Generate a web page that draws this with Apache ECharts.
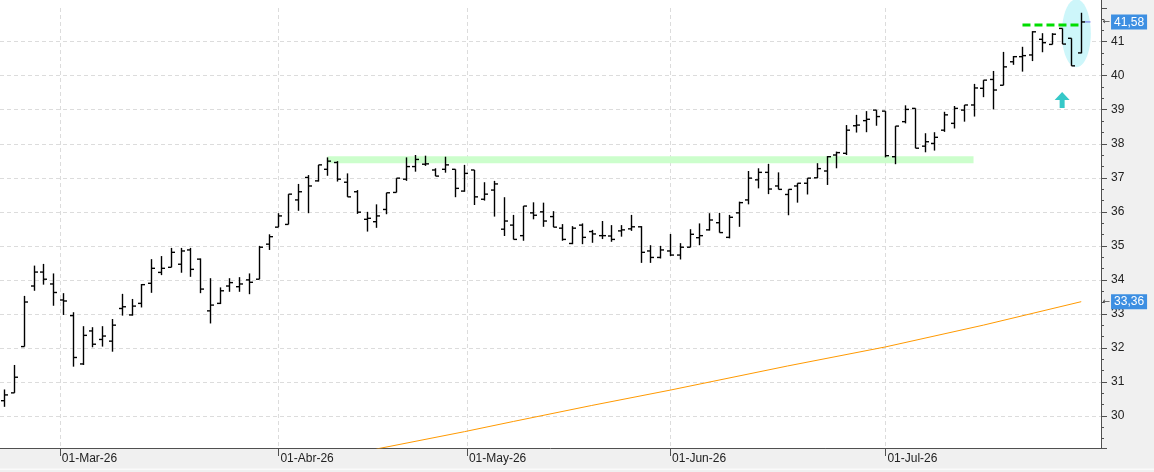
<!DOCTYPE html>
<html>
<head>
<meta charset="utf-8">
<style>
  html, body { margin: 0; padding: 0; background: #fff; }
  #chart { width: 1154px; height: 472px; }
</style>
<script src="https://cdn.jsdelivr.net/npm/echarts@6.0.0/dist/echarts.min.js"></script>
</head>
<body>
<div id="chart"></div>
<script>
// sesiones (una barra por sesión)
const dates = [
  '2026-02-20', '2026-02-23', '2026-02-24', '2026-02-25', '2026-02-26', '2026-02-27',
  '2026-03-02', '2026-03-03', '2026-03-04', '2026-03-05', '2026-03-06',
  '2026-03-09', '2026-03-10', '2026-03-11', '2026-03-12', '2026-03-13',
  '2026-03-16', '2026-03-17', '2026-03-18', '2026-03-19', '2026-03-20',
  '2026-03-23', '2026-03-24', '2026-03-25', '2026-03-26', '2026-03-27',
  '2026-03-30', '2026-03-31', '2026-04-01', '2026-04-02',
  '2026-04-07', '2026-04-08', '2026-04-09', '2026-04-10',
  '2026-04-13', '2026-04-14', '2026-04-15', '2026-04-16', '2026-04-17',
  '2026-04-20', '2026-04-21', '2026-04-22', '2026-04-23', '2026-04-24',
  '2026-04-27', '2026-04-28', '2026-04-29', '2026-04-30',
  '2026-05-04', '2026-05-05', '2026-05-06', '2026-05-07', '2026-05-08',
  '2026-05-11', '2026-05-12', '2026-05-13', '2026-05-14', '2026-05-15',
  '2026-05-18', '2026-05-19', '2026-05-20', '2026-05-21', '2026-05-22',
  '2026-05-25', '2026-05-26', '2026-05-27', '2026-05-28', '2026-05-29',
  '2026-06-01', '2026-06-02', '2026-06-03', '2026-06-04', '2026-06-05',
  '2026-06-08', '2026-06-09', '2026-06-10', '2026-06-11', '2026-06-12',
  '2026-06-15', '2026-06-16', '2026-06-17', '2026-06-18', '2026-06-19',
  '2026-06-22', '2026-06-23', '2026-06-24', '2026-06-25', '2026-06-26',
  '2026-06-29', '2026-06-30', '2026-07-01', '2026-07-02', '2026-07-03',
  '2026-07-06', '2026-07-07', '2026-07-08', '2026-07-09', '2026-07-10',
  '2026-07-13', '2026-07-14', '2026-07-15', '2026-07-16', '2026-07-17',
  '2026-07-20', '2026-07-21', '2026-07-22', '2026-07-23', '2026-07-24',
  '2026-07-27', '2026-07-28', '2026-07-29'
]

const opens = [
  30.45, 30.68, 32.04, 33.82, 34.23, 33.88,
  33.41, 32.95, 31.53, 32.50, 32.25,
  32.20, 33.16, 32.97, 33.31, 33.90,
  34.22, 34.37, 34.46, 34.88, 34.61,
  33.09, 33.31, 33.82, 33.80, 34.00,
  34.02, 35.05, 35.55, 35.63,
  36.35, 37.01, 36.91, 37.25,
  37.45, 36.87, 36.59, 35.78, 35.71,
  36.07, 36.57, 36.96, 37.33, 37.40,
  37.23, 37.25, 37.25, 36.61,
  37.23, 36.37, 36.64, 35.49, 35.61,
  35.30, 35.97, 36.00, 35.86, 35.52,
  35.07, 35.61, 35.42, 35.30, 35.29,
  35.44, 35.50, 35.56, 34.85, 34.66,
  34.85, 34.73, 34.96, 35.24, 35.47,
  35.68, 35.25, 35.97, 36.35, 36.94,
  37.16, 36.76, 36.51, 36.76, 36.84,
  37.00, 37.20, 37.67, 37.72, 38.53,
  38.68, 38.99, 38.96, 37.62, 38.65,
  39.04, 37.93, 38.01, 38.40, 38.60,
  38.99, 39.14, 39.63, 39.89, 39.72,
  40.41, 40.56, 40.61, 41.07, 40.92,
  41.39, 41.10, 40.67
]
const highs = [
  30.78, 31.50, 33.53, 34.42, 34.47, 34.19,
  33.61, 33.05, 32.64, 32.61, 32.64,
  32.85, 33.59, 33.44, 33.88, 34.61,
  34.70, 34.94, 34.94, 34.94, 34.63,
  34.05, 33.78, 34.05, 34.08, 34.19,
  35.00, 35.34, 35.96, 36.52,
  36.82, 37.08, 37.38, 37.60,
  37.49, 37.13, 36.64, 36.00, 36.22,
  36.56, 36.99, 37.60, 37.67, 37.65,
  37.28, 37.62, 37.25, 37.38,
  37.23, 36.87, 36.91, 36.43, 35.91,
  36.17, 36.28, 36.27, 36.02, 35.64,
  35.58, 35.66, 35.47, 35.73, 35.61,
  35.61, 35.91, 35.58, 35.02, 35.00,
  35.35, 35.08, 35.49, 35.66, 35.96,
  35.97, 35.91, 36.30, 37.20, 37.28,
  37.41, 37.16, 36.66, 36.84, 36.99,
  37.43, 37.64, 37.77, 38.55, 38.85,
  38.96, 38.99, 38.96, 38.52, 39.13,
  39.04, 38.31, 38.34, 38.94, 39.11,
  39.14, 39.76, 39.87, 40.14, 40.70,
  40.58, 40.85, 41.31, 41.25, 41.25,
  41.39, 41.10, 41.85
]
const lows = [
  30.27, 30.68, 32.04, 33.68, 33.86, 33.24,
  32.97, 31.45, 31.50, 32.02, 32.04,
  31.89, 32.95, 32.95, 33.19, 33.62,
  34.14, 34.37, 34.21, 34.09, 33.61,
  32.72, 33.29, 33.65, 33.65, 33.58,
  34.02, 34.88, 35.55, 35.63,
  36.03, 35.96, 36.89, 37.06,
  36.89, 36.44, 35.94, 35.42, 35.53,
  35.93, 36.57, 36.91, 37.18, 37.35,
  37.05, 37.15, 36.43, 36.59,
  36.20, 36.33, 35.86, 35.29, 35.19,
  35.15, 35.78, 35.56, 35.55, 35.15,
  35.05, 35.05, 35.09, 35.20, 35.12,
  35.27, 35.44, 34.50, 34.50, 34.63,
  34.70, 34.60, 34.96, 35.02, 35.45,
  35.39, 35.22, 35.56, 36.22, 36.69,
  36.52, 36.66, 35.90, 36.27, 36.51,
  36.99, 36.79, 37.28, 37.67, 38.33,
  38.34, 38.53, 37.60, 37.40, 38.60,
  37.87, 37.75, 37.80, 38.35, 38.45,
  38.65, 38.80, 39.37, 39.01, 39.72,
  40.32, 40.12, 40.43, 40.69, 40.92,
  40.93, 40.29, 40.66
]
const closes = [
  30.62, 31.14, 33.35, 34.23, 34.02, 33.63,
  33.38, 31.72, 32.37, 32.11, 32.35,
  32.67, 33.21, 33.23, 33.86, 34.34,
  34.34, 34.81, 34.85, 34.31, 33.73,
  33.26, 33.68, 33.92, 33.88, 33.93,
  34.96, 35.27, 35.88, 36.52,
  36.59, 36.76, 37.38, 37.49,
  36.96, 36.44, 35.99, 35.81, 35.88,
  36.56, 36.99, 37.33, 37.54, 37.41,
  37.05, 37.38, 36.69, 37.13,
  36.44, 36.52, 36.82, 35.73, 35.19,
  36.17, 35.90, 35.73, 35.55, 35.19,
  35.52, 35.25, 35.35, 35.30, 35.19,
  35.47, 35.56, 34.81, 34.66, 34.88,
  34.73, 34.96, 35.34, 35.30, 35.76,
  35.39, 35.84, 36.27, 36.99, 37.16,
  36.67, 36.66, 36.66, 36.84, 36.99,
  37.27, 37.62, 37.74, 38.40, 38.55,
  38.72, 38.80, 37.65, 38.52, 39.01,
  37.87, 38.06, 38.19, 38.85, 39.04,
  39.14, 39.64, 39.87, 39.58, 40.26,
  40.56, 40.59, 41.29, 40.97, 41.22,
  40.93, 40.29, 41.58
]

// media móvil naranja: [sesión, valor]
const maPoints = [
  [38, 29.03], [47, 29.54], [52, 29.84], [60, 30.31], [68, 30.76],
  [80, 31.47], [90, 32.03], [100, 32.67], [110, 33.36]
]

// etiquetas del eje x (inicio de mes)
const monthStarts = ['2026-03-01', '2026-04-01', '2026-05-01', '2026-06-01', '2026-07-01']
const monthLabels = ['01-Mar-26', '01-Abr-26', '01-May-26', '01-Jun-26', '01-Jul-26']

// niveles marcados
const supportLevel = 37.53          // banda verde clara
const supportFrom = 33, supportTo = 99
const prevHigh = 41.49              // línea verde discontinua
const prevHighFrom = 104, prevHighTo = 110
const lastPrice = 41.58
const lastMa = 33.36

// 1.inicializar
const myChart = echarts.init(document.getElementById('chart'))

// posición de cada inicio de mes sobre el eje de sesiones (interpolando por días naturales)
const toT = (s) => Date.parse(s + 'T00:00:00Z')
const monthPos = monthStarts.map((s) => {
  const t = toT(s)
  for (let i = 0; i < dates.length - 1; i++) {
    const a = toT(dates[i])
    const b = toT(dates[i + 1])
    if (t >= a && t < b) return i + (t - a) / (b - a)
  }
  return dates.length - 1
})

const monthLabel = (v) => {
  let best = 0
  monthPos.forEach((p, i) => {
    if (Math.abs(p - v) < Math.abs(monthPos[best] - v)) best = i
  })
  return monthLabels[best]
}

const fmt = (v) => v.toFixed(2).replace('.', ',')

// 2.opciones
const option = {
  animation: false,
  backgroundColor: '#fff',
  textStyle: { fontFamily: 'Liberation Sans' },
  grid: { left: 0, right: 53, top: 8, bottom: 24, containLabel: false },
  xAxis: {
    type: 'value',
    min: -0.44,
    max: 112.02,
    axisLine: { onZero: false, lineStyle: { color: '#505050', width: 1 } },
    axisTick: { customValues: monthPos, length: 8, lineStyle: { color: '#505050' } },
    axisLabel: {
      customValues: monthPos,
      formatter: monthLabel,
      align: 'left',
      padding: [0, 0, 0, 2],
      margin: 5,
      color: '#222',
      fontSize: 12
    },
    splitLine: { show: true, lineStyle: { color: '#dcdcdc', type: [4, 3] } }
  },
  yAxis: {
    type: 'value',
    position: 'right',
    min: 29.06,
    max: 41.99,
    splitNumber: 13,
    axisLine: { show: true, onZero: false, lineStyle: { color: '#505050', width: 1 } },
    axisTick: { show: true, length: 6, lineStyle: { color: '#505050' } },
    minorTick: { show: true, splitNumber: 3, length: 3, lineStyle: { color: '#505050' } },
    axisLabel: {
      margin: 10,
      color: '#222',
      fontSize: 12,
      formatter: (v) => (Math.abs(v - Math.round(v)) < 1e-6 && v < 41.5 ? String(Math.round(v)) : '')
    },
    splitLine: {
      show: true,
      showMinLine: false,
      showMaxLine: false,
      lineStyle: { color: '#dcdcdc', type: [4, 3] }
    }
  },
  series: [
    // banda verde clara (soporte / resistencia)
    {
      type: 'line',
      silent: true,
      symbol: 'none',
      z: 1,
      data: [[supportFrom, supportLevel], [supportTo, supportLevel]],
      lineStyle: { color: '#ccfecc', width: 7, cap: 'butt' }
    },
    // barras OHLC
    {
      type: 'custom',
      z: 5,
      silent: true,
      data: dates.map((d, i) => [i, opens[i], highs[i], lows[i], closes[i]]),
      encode: { x: 0, y: [1, 2, 3, 4] },
      clip: false,
      renderItem: function (params, api) {
        const i = api.value(0)
        const x = Math.round(api.coord([i, 35])[0]) + 0.5
        const yO = api.coord([i, api.value(1)])[1]
        const yH = api.coord([i, api.value(2)])[1]
        const yL = api.coord([i, api.value(3)])[1]
        const yC = api.coord([i, api.value(4)])[1]
        const style = { stroke: '#000', lineWidth: 1.4 }
        const children = [
          { type: 'line', shape: { x1: x, y1: yH, x2: x, y2: yL }, style },
          { type: 'line', shape: { x1: x - 3.5, y1: yO, x2: x, y2: yO }, style },
          { type: 'line', shape: { x1: x, y1: yC, x2: x + 3.5, y2: yC }, style }
        ]
        // último precio marcado en azul
        if (params.dataIndex === dates.length - 1) {
          children.push({
            type: 'line',
            shape: { x1: x + 3.5, y1: yC, x2: x + 9, y2: yC },
            style: { stroke: '#6a6ae6', lineWidth: 1 }
          })
        }
        return { type: 'group', children }
      }
    },
    // línea verde discontinua (máximo previo)
    {
      type: 'line',
      silent: true,
      symbol: 'none',
      z: 6,
      data: [[prevHighFrom, prevHigh], [prevHighTo, prevHigh]],
      lineStyle: { color: '#00dd00', width: 3, type: [8, 4] }
    },
    // media móvil naranja
    {
      type: 'line',
      silent: true,
      symbol: 'none',
      z: 4,
      data: maPoints,
      lineStyle: { color: '#ff9900', width: 1 },
      markPoint: {
        silent: true,
        animation: false,
        label: { show: false },
        data: [
          {
            coord: [108.05, 39.29],
            symbol: 'path://M7.5,0L15,8L10,8L10,16L5,16L5,8L0,8Z',
            symbolSize: [15, 16],
            itemStyle: { color: '#36c8c8' }
          }
        ]
      }
    }
  ]
}

// 3.pintar
myChart.setOption(option)

// etiqueta de precio en el eje derecho
const axisX = myChart.convertToPixel({ gridIndex: 0 }, [112.02, 35])[0]
const priceTag = (v) => ({
  type: 'text',
  z: 30,
  x: axisX + 1.5,
  y: myChart.convertToPixel({ yAxisIndex: 0 }, v),
  style: {
    text: '{a|←}{b|' + fmt(v) + '}',
    verticalAlign: 'middle',
    align: 'left',
    rich: {
      a: { fill: '#444', fontSize: 9, fontFamily: 'DejaVu Sans', padding: [0, 1, 0, 0] },
      b: {
        fill: '#fff',
        backgroundColor: '#3d8fe2',
        fontSize: 12,
        lineHeight: 14,
        fontFamily: 'Liberation Sans',
        padding: [2, 3, 1, 3]
      }
    }
  }
})

// elipse de la última sesión y fondos de los ejes
const c = myChart.convertToPixel({ gridIndex: 0 }, [109.5, 41.25])
myChart.setOption({
  graphic: [
    { type: 'rect', right: 0, top: 0, z: -10, shape: { width: 53, height: 472 }, style: { fill: '#f0f0f0' } },
    { type: 'rect', left: 0, bottom: 0, z: -10, shape: { width: 1154, height: 24 }, style: { fill: '#f0f0f0' } },
    { type: 'rect', left: 0, bottom: 2, z: -9, shape: { width: 1154, height: 1.5 }, style: { fill: '#fafafa' } },
    { type: 'line', z: 10, shape: { x1: axisX + 0.5, y1: 0, x2: axisX + 0.5, y2: 8 }, style: { stroke: '#505050', lineWidth: 1 } },
    { type: 'ellipse', z: 1, shape: { cx: c[0], cy: c[1], rx: 14.5, ry: 34 }, style: { fill: '#cdf6fa' } },
    priceTag(lastPrice),
    priceTag(lastMa)
  ]
})
</script>
</body>
</html>
